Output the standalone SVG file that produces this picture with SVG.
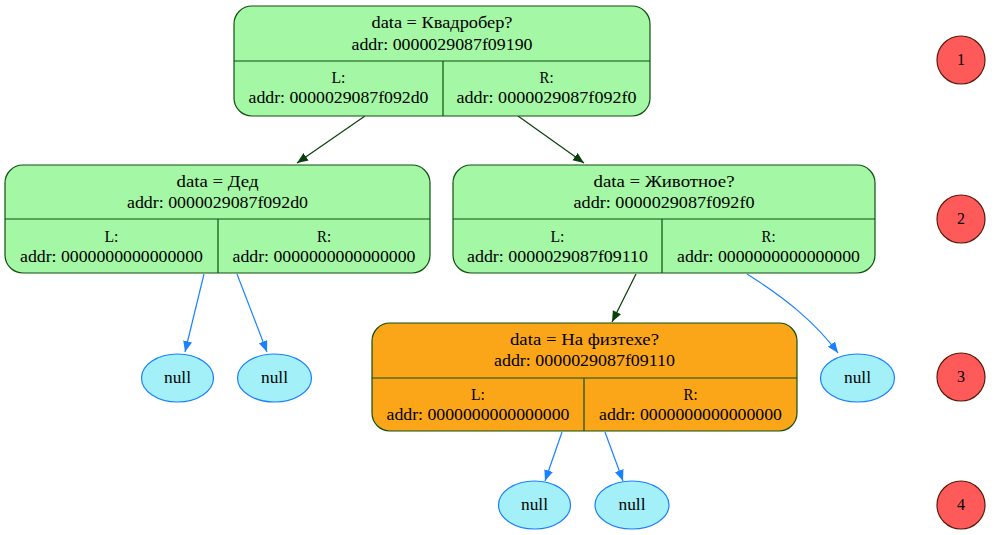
<svg xmlns="http://www.w3.org/2000/svg" width="995" height="535" viewBox="0 0 995 535" font-family="'Liberation Serif', 'Times New Roman', Times, serif">
<style>
text{font-family:'Liberation Serif','Times New Roman',Times,serif;font-size:16px;fill:#000;text-anchor:middle}
.g{fill:#a4f7a4;stroke:#0f4f0f;stroke-width:1.2}
.o{fill:#fba619;stroke:#0f4f0f;stroke-width:1.2}
.div{stroke:#0f4f0f;stroke-width:1.2;fill:none}
.nul{fill:#a3f0f9;stroke:#1a7fff;stroke-width:1.2}
.lvl{fill:#ff5a5a;stroke:#5a1a0a;stroke-width:1.2}
.eg{stroke:#0a400a;stroke-width:1.2;fill:none;marker-end:url(#ag)}
.eb{stroke:#1a82ff;stroke-width:1.2;fill:none;marker-end:url(#ab)}
</style>
<defs>
<marker id="ag" markerUnits="userSpaceOnUse" markerWidth="12" markerHeight="10" refX="11" refY="4.5" orient="auto"><path d="M0,0 L11,4.5 L0,9 z" fill="#0a400a"/></marker>
<marker id="ab" markerUnits="userSpaceOnUse" markerWidth="12" markerHeight="10" refX="11" refY="4.5" orient="auto"><path d="M0,0 L11,4.5 L0,9 z" fill="#1a82ff"/></marker>
</defs>
<rect width="995" height="535" fill="#fff"/>
<g id="edges">
<line class="eg" x1="365" y1="116" x2="297" y2="163"/>
<line class="eg" x1="518" y1="116" x2="584" y2="163"/>
<line class="eg" x1="636" y1="274" x2="612" y2="322"/>
<path class="eb" d="M747,274 C785,298 815,322 838,353"/>
<line class="eb" x1="204" y1="274" x2="185" y2="352"/>
<line class="eb" x1="237" y1="274" x2="267" y2="352"/>
<line class="eb" x1="562" y1="432" x2="545" y2="481"/>
<line class="eb" x1="605" y1="432" x2="623" y2="481"/>
</g>
<g id="root">
<rect class="g" x="234" y="6" width="416" height="110" rx="18"/>
<path class="div" d="M234,61 H650 M443,61 V116"/>
<text x="442" y="28" textLength="141" lengthAdjust="spacingAndGlyphs">data = Квадробер?</text>
<text x="442" y="50" textLength="181" lengthAdjust="spacingAndGlyphs">addr: 0000029087f09190</text>
<text x="338.5" y="83" textLength="14" lengthAdjust="spacingAndGlyphs">L:</text>
<text x="338.5" y="103" textLength="180" lengthAdjust="spacingAndGlyphs">addr: 0000029087f092d0</text>
<text x="546.5" y="83" textLength="14" lengthAdjust="spacingAndGlyphs">R:</text>
<text x="546.5" y="103" textLength="180" lengthAdjust="spacingAndGlyphs">addr: 0000029087f092f0</text>
</g>
<g id="ded">
<rect class="g" x="5" y="165" width="425" height="108" rx="18"/>
<path class="div" d="M5,219 H430 M218,219 V273"/>
<text x="217.5" y="187" textLength="82" lengthAdjust="spacingAndGlyphs">data = Дед</text>
<text x="217.5" y="208" textLength="181" lengthAdjust="spacingAndGlyphs">addr: 0000029087f092d0</text>
<text x="111.5" y="242" textLength="14" lengthAdjust="spacingAndGlyphs">L:</text>
<text x="111.5" y="262" textLength="183" lengthAdjust="spacingAndGlyphs">addr: 0000000000000000</text>
<text x="324" y="242" textLength="14" lengthAdjust="spacingAndGlyphs">R:</text>
<text x="324" y="262" textLength="183" lengthAdjust="spacingAndGlyphs">addr: 0000000000000000</text>
</g>
<g id="animal">
<rect class="g" x="453" y="165" width="422" height="108" rx="18"/>
<path class="div" d="M453,219 H875 M662,219 V273"/>
<text x="664" y="187" textLength="141" lengthAdjust="spacingAndGlyphs">data = Животное?</text>
<text x="664" y="208" textLength="181" lengthAdjust="spacingAndGlyphs">addr: 0000029087f092f0</text>
<text x="557.5" y="242" textLength="14" lengthAdjust="spacingAndGlyphs">L:</text>
<text x="557.5" y="262" textLength="181" lengthAdjust="spacingAndGlyphs">addr: 0000029087f09110</text>
<text x="768.5" y="242" textLength="14" lengthAdjust="spacingAndGlyphs">R:</text>
<text x="768.5" y="262" textLength="183" lengthAdjust="spacingAndGlyphs">addr: 0000000000000000</text>
</g>
<g id="phystech">
<rect class="o" x="372" y="323" width="425" height="108" rx="18"/>
<path class="div" d="M372,378 H797 M584,378 V431"/>
<text x="584.5" y="345" textLength="149" lengthAdjust="spacingAndGlyphs">data = На физтехе?</text>
<text x="584.5" y="366" textLength="181" lengthAdjust="spacingAndGlyphs">addr: 0000029087f09110</text>
<text x="478" y="400" textLength="14" lengthAdjust="spacingAndGlyphs">L:</text>
<text x="478" y="420" textLength="183" lengthAdjust="spacingAndGlyphs">addr: 0000000000000000</text>
<text x="690.5" y="400" textLength="14" lengthAdjust="spacingAndGlyphs">R:</text>
<text x="690.5" y="420" textLength="183" lengthAdjust="spacingAndGlyphs">addr: 0000000000000000</text>
</g>
<g id="null1"><ellipse class="nul" cx="177.5" cy="378" rx="36" ry="24"/><text x="177.5" y="383" textLength="27" lengthAdjust="spacingAndGlyphs">null</text></g>
<g id="null2"><ellipse class="nul" cx="274.5" cy="378" rx="37" ry="24"/><text x="274.5" y="383" textLength="27" lengthAdjust="spacingAndGlyphs">null</text></g>
<g id="null3"><ellipse class="nul" cx="857.5" cy="378" rx="37" ry="24"/><text x="857.5" y="383" textLength="27" lengthAdjust="spacingAndGlyphs">null</text></g>
<g id="null4"><ellipse class="nul" cx="534.5" cy="505" rx="36" ry="24"/><text x="534.5" y="510" textLength="27" lengthAdjust="spacingAndGlyphs">null</text></g>
<g id="null5"><ellipse class="nul" cx="632" cy="505" rx="37" ry="24"/><text x="632" y="510" textLength="27" lengthAdjust="spacingAndGlyphs">null</text></g>
<g id="lvl1"><circle class="lvl" cx="961" cy="60" r="24"/><text x="961" y="65">1</text></g>
<g id="lvl2"><circle class="lvl" cx="961" cy="219" r="24"/><text x="961" y="224">2</text></g>
<g id="lvl3"><circle class="lvl" cx="961" cy="377" r="24"/><text x="961" y="382">3</text></g>
<g id="lvl4"><circle class="lvl" cx="961" cy="505" r="24"/><text x="961" y="510">4</text></g>
</svg>
